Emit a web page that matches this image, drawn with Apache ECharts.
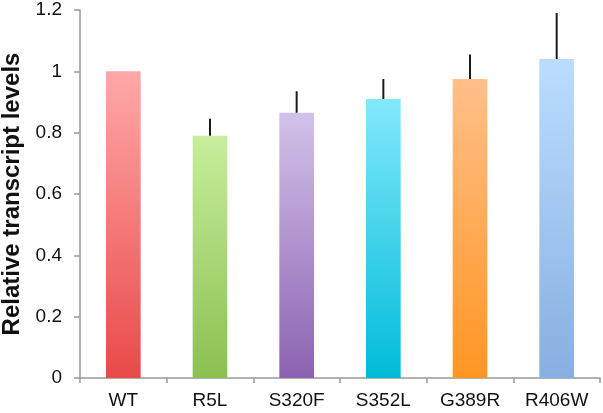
<!DOCTYPE html>
<html>
<head>
<meta charset="utf-8">
<script src="https://cdn.jsdelivr.net/npm/echarts@6/dist/echarts.min.js"></script>
<style>html,body{margin:0;padding:0;background:#fff}#c{width:603px;height:413px}</style>
</head>
<body>
<div id="c"></div>
<script>
var categories = ['WT', 'R5L', 'S320F', 'S352L', 'G389R', 'R406W'];
var values = [1.0, 0.79, 0.865, 0.91, 0.975, 1.04];
var errors = [0, 0.055, 0.07, 0.065, 0.08, 0.15];
var topColors = ['#ffa8a8', '#c6ee9c', '#d2c2ea', '#82e8fc', '#ffbf8a', '#bcdcff'];
var bottomColors = ['#e84a48', '#8cc050', '#8c62b0', '#00bcd8', '#ff9622', '#86b0e0'];
var yTicks = [0, 0.2, 0.4, 0.6, 0.8, 1, 1.2];

var chart = echarts.init(document.getElementById('c'));
var barData = values.map(function (v, i) {
  return {
    value: v,
    itemStyle: {
      color: new echarts.graphic.LinearGradient(0, 0, 0, 1, [
        { offset: 0, color: topColors[i] },
        { offset: 1, color: bottomColors[i] }
      ])
    }
  };
});
var errData = values.map(function (v, i) { return [i, v, v + errors[i]]; });

chart.setOption({
  animation: false,
  grid: { left: 80, top: 10, right: 3, bottom: 35, containLabel: false, outerBoundsMode: 'none' },
  xAxis: {
    type: 'category',
    data: categories,
    axisLine: { lineStyle: { color: '#999', width: 1.5 } },
    axisTick: { show: true, length: 5, lineStyle: { color: '#999', width: 1.5 } },
    axisLabel: { color: '#111', fontSize: 19, fontFamily: 'Liberation Sans, Arial', margin: 13 }
  },
  yAxis: {
    type: 'value',
    min: yTicks[0],
    max: yTicks[yTicks.length - 1],
    interval: 0.2,
    name: 'Relative transcript levels',
    nameLocation: 'middle',
    nameGap: 55,
    nameTextStyle: { fontSize: 24, fontWeight: 'bold', color: '#111', fontFamily: 'Liberation Sans, Arial' },
    axisLine: { show: true, lineStyle: { color: '#999', width: 1.5 } },
    axisTick: { show: true, length: 6, lineStyle: { color: '#999', width: 1.5 } },
    splitLine: { show: false },
    axisLabel: { color: '#111', fontSize: 19, fontFamily: 'Liberation Sans, Arial', margin: 18 }
  },
  series: [
    {
      type: 'bar',
      data: barData,
      barWidth: '40%'
    },
    {
      type: 'custom',
      data: errData,
      z: 10,
      renderItem: function (params, api) {
        var x = api.value(0);
        var p1 = api.coord([x, api.value(1)]);
        var p2 = api.coord([x, api.value(2)]);
        return {
          type: 'line',
          shape: { x1: p1[0], y1: p1[1], x2: p2[0], y2: p2[1] },
          style: { stroke: '#1a1a1a', lineWidth: 2 }
        };
      }
    }
  ]
});
</script>
</body>
</html>
